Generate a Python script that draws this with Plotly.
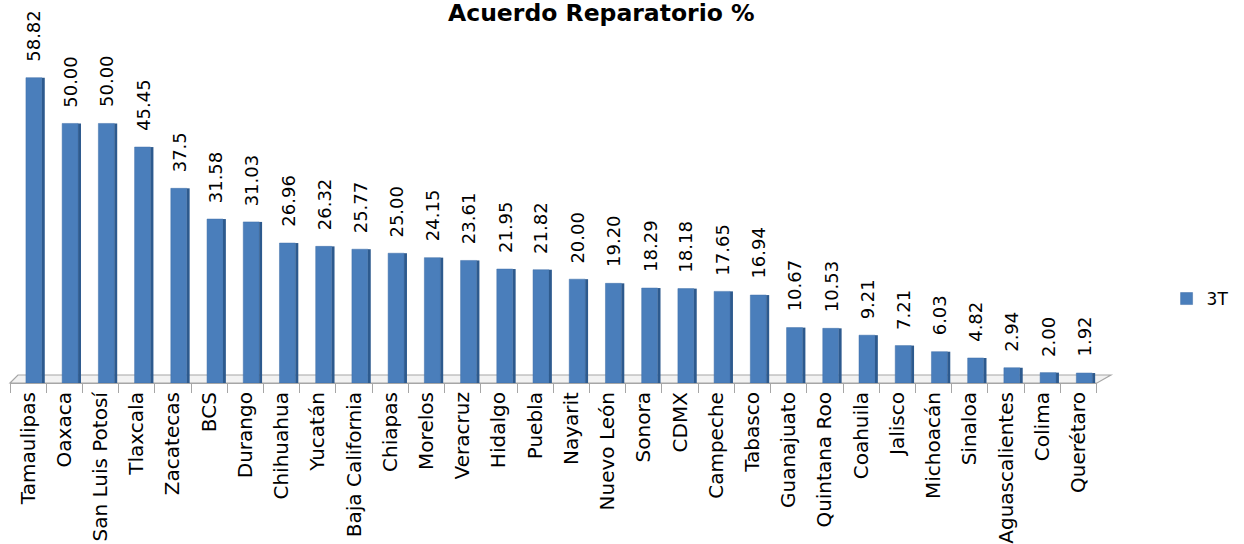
import plotly.graph_objects as go

states = ["Tamaulipas", "Oaxaca", "San Luis Potosí", "Tlaxcala", "Zacatecas", "BCS", "Durango",
          "Chihuahua", "Yucatán", "Baja California", "Chiapas", "Morelos", "Veracruz", "Hidalgo",
          "Puebla", "Nayarit", "Nuevo León", "Sonora", "CDMX", "Campeche", "Tabasco", "Guanajuato",
          "Quintana Roo", "Coahuila", "Jalisco", "Michoacán", "Sinaloa", "Aguascalientes", "Colima",
          "Querétaro"]
values = [58.82, 50.00, 50.00, 45.45, 37.5, 31.58, 31.03, 26.96, 26.32, 25.77, 25.00, 24.15, 23.61,
          21.95, 21.82, 20.00, 19.20, 18.29, 18.18, 17.65, 16.94, 10.67, 10.53, 9.21, 7.21, 6.03,
          4.82, 2.94, 2.00, 1.92]
labels = ["58.82", "50.00", "50.00", "45.45", "37.5", "31.58", "31.03", "26.96", "26.32", "25.77",
          "25.00", "24.15", "23.61", "21.95", "21.82", "20.00", "19.20", "18.29", "18.18", "17.65",
          "16.94", "10.67", "10.53", "9.21", "7.21", "6.03", "4.82", "2.94", "2.00", "1.92"]
series_name = "3T"

FONT = "DejaVu Sans"
fig = go.Figure()
fig.add_trace(go.Bar(x=states, y=values, name=series_name, width=0.44, offset=-0.06,
                     marker=dict(color="#4A7EBB", line=dict(color="#3F6FA8", width=0.5)),
                     showlegend=True))
fig.add_trace(go.Bar(x=states, y=values, name="side", width=0.08, offset=0.38,
                     marker=dict(color="#2D5A8E", line=dict(width=0)), showlegend=False,
                     hoverinfo="skip"))

annotations = []
for s, v, t in zip(states, values, labels):
    annotations.append(dict(x=s, y=v, text=t, textangle=-90, showarrow=False,
                            xanchor="center", yanchor="bottom", yshift=14, xshift=6,
                            font=dict(family=FONT, size=18, color="#000000")))

# 3D-style floor under the bars
shapes = [dict(type="path", xref="paper", yref="paper", layer="below",
               path="M 0,0 L 1,0 L 1.0128,0.0227 L 0.0073,0.0227 Z",
               fillcolor="#F2F2F2", line=dict(color="#A6A6A6", width=1.2))]

fig.update_layout(
    width=1244, height=544,
    paper_bgcolor="white", plot_bgcolor="white",
    margin=dict(l=10, r=141, t=30, b=161),
    barmode="overlay",
    title=dict(text="<b>Acuerdo Reparatorio %</b>", x=0.544, xanchor="center", xref="paper",
               y=0.976, yanchor="middle", font=dict(family=FONT, size=23.5, color="#000000")),
    xaxis=dict(type="category", tickangle=-90, tickfont=dict(family=FONT, size=20, color="#000000"),
               showline=True, linecolor="#A6A6A6", linewidth=1.2, ticks="outside", tickson="boundaries",
               ticklen=9, tickcolor="#A6A6A6", showgrid=False, automargin=False),
    yaxis=dict(range=[0, 68.0], visible=False, showgrid=False, zeroline=False),
    legend=dict(x=1.064, xanchor="left", y=0.238, yanchor="middle", yref="paper",
                font=dict(family=FONT, size=17, color="#000000"), bgcolor="rgba(0,0,0,0)"),
    annotations=annotations,
    shapes=shapes,
    showlegend=True,
)
fig.write_html("out.html", config={"displayModeBar": False},
               post_script="document.body.style.margin='0';document.body.style.overflow='hidden';")
